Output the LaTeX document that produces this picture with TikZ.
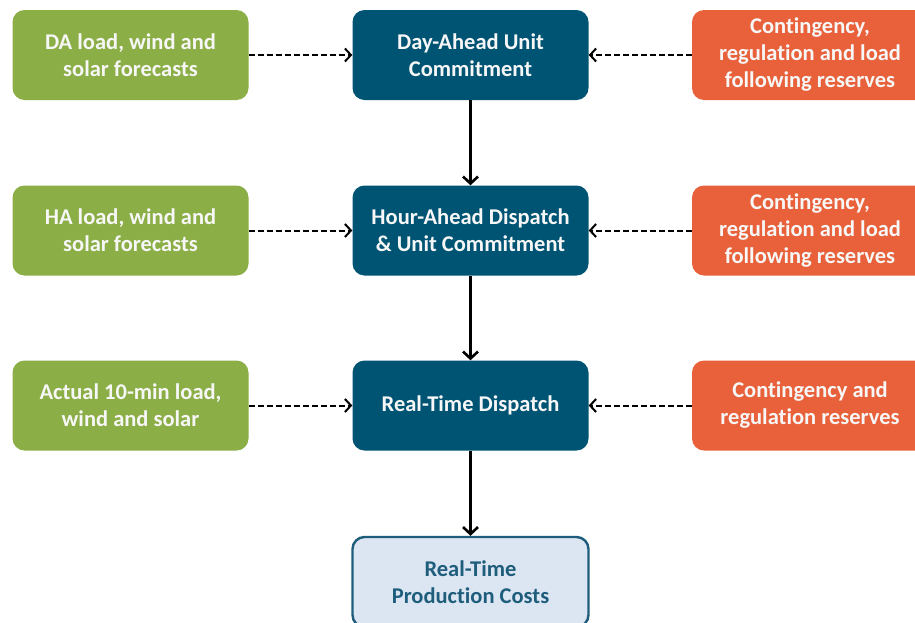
\documentclass[tikz,border=0pt]{standalone}
\usepackage{fontspec}
\setmainfont{Carlito}[Ligatures={NoCommon,NoRare}]
\usetikzlibrary{arrows.meta}
\definecolor{cgreen}{HTML}{8BAE46}
\definecolor{corange}{HTML}{E8613A}
\definecolor{cblue}{HTML}{005473}
\definecolor{clight}{HTML}{DCE6F2}
\definecolor{cedge}{HTML}{1E5D7B}
\definecolor{ctext}{HTML}{F7F7F7}
\tikzset{
  box/.style={rectangle, rounded corners=12pt, minimum width=236pt, minimum height=90pt,
    inner sep=0pt, align=center, font=\fontsize{22.5}{27}\selectfont\bfseries, text=ctext},
  greenbox/.style={box, fill=cgreen},
  orangebox/.style={box, fill=corange},
  bluebox/.style={box, fill=cblue},
  lightbox/.style={box, fill=clight, draw=cedge, line width=2.4pt, text=cedge},
  dasharrow/.style={draw=black, line width=2pt, dash pattern=on 6pt off 3pt,
    -{Straight Barb[length=6pt,width=13pt,line width=2pt]}},
  solidarrow/.style={draw=black, line width=2.6pt,
    -{Straight Barb[length=7pt,width=15pt,line width=2.6pt]}}
}
\begin{document}
\begin{tikzpicture}[x=1pt,y=-1pt]
\useasboundingbox (0,0) rectangle (915,622);
\clip (0,0) rectangle (915,622);
\node[greenbox] (g1) at (130.5,55) {DA load, wind and\\solar forecasts};
\node[greenbox] (g2) at (130.5,230.5) {HA load, wind and\\solar forecasts};
\node[greenbox] (g3) at (130.5,405.5) {Actual 10-min load,\\wind and solar};
\node[bluebox] (c1) at (470.5,55) {Day-Ahead Unit\\Commitment};
\node[bluebox] (c2) at (470.5,230.5) {Hour-Ahead Dispatch\\\& Unit Commitment};
\node[bluebox] (c3) at (470.5,405.5) {Real-Time Dispatch};
\node[lightbox] (c4) at (470.5,582) {Real-Time\\Production Costs};
\node[orangebox] (o1) at (810,55) {Contingency,\\regulation and load\\following reserves};
\node[orangebox] (o2) at (810,230.5) {Contingency,\\regulation and load\\following reserves};
\node[orangebox] (o3) at (810,405.5) {Contingency and\\regulation reserves};
\draw[dasharrow] (g1) -- (c1);
\draw[dasharrow] (g2) -- (c2);
\draw[dasharrow] (g3) -- (c3);
\draw[dasharrow] (o1) -- (c1);
\draw[dasharrow] (o2) -- (c2);
\draw[dasharrow] (o3) -- (c3);
\draw[solidarrow] (c1) -- (c2);
\draw[solidarrow] (c2) -- (c3);
\draw[solidarrow] (c3) -- (c4);
\end{tikzpicture}
\end{document}
